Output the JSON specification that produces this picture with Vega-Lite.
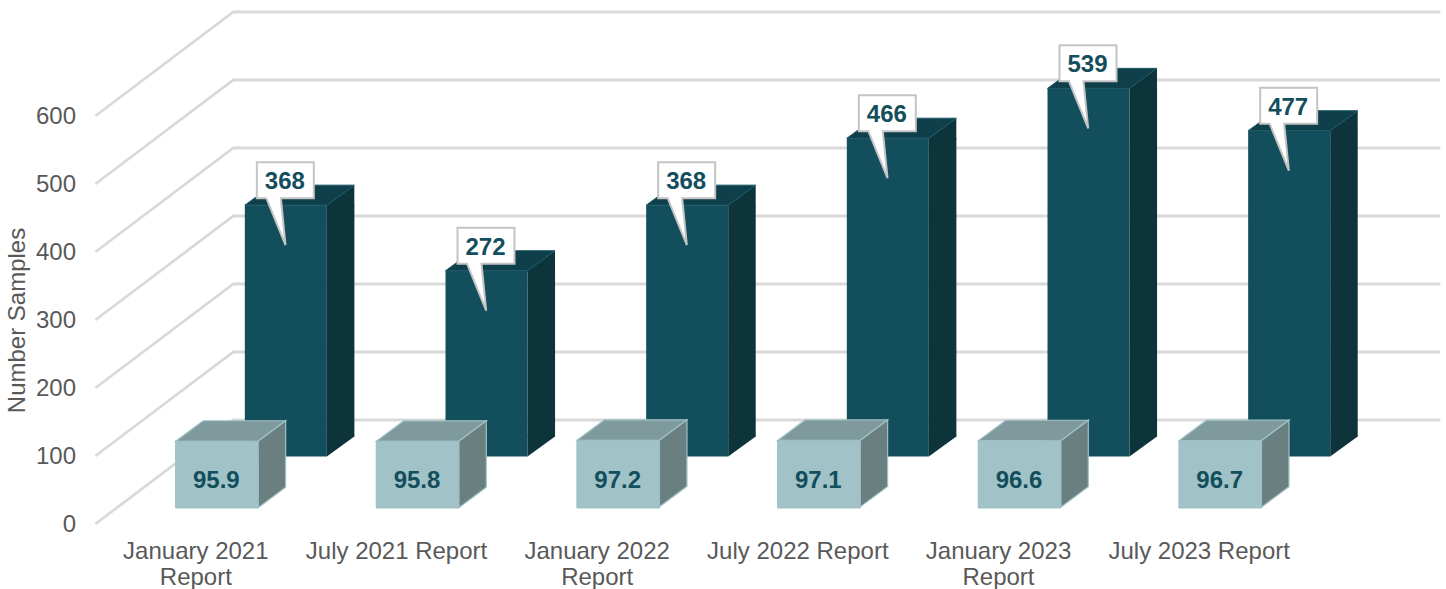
{
"$schema":"https://vega.github.io/schema/vega-lite/v6.json",
"width":1204,"height":408,
"autosize":{"type":"none"},
"padding":{"left":95.5,"top":116,"right":146.5,"bottom":65},
"background":"#ffffff",
"config":{"view":{"stroke":null},"font":"Liberation Sans"},
"datasets":{
"reports":[
{"report":"January 2021 Report","samples":368,"score":95.9},
{"report":"July 2021 Report","samples":272,"score":95.8},
{"report":"January 2022 Report","samples":368,"score":97.2},
{"report":"July 2022 Report","samples":466,"score":97.1},
{"report":"January 2023 Report","samples":539,"score":96.6},
{"report":"July 2023 Report","samples":477,"score":96.7}],
"ticks":[{"tick":0},{"tick":100},{"tick":200},{"tick":300},{"tick":400},{"tick":500},{"tick":600}]
},
"encoding":{
  "x":{"field":"report","type":"nominal","sort":null,"scale":{"type":"band","paddingInner":0,"paddingOuter":0},
    "axis":{"title":null,"domain":false,"ticks":false,"labelAngle":0,"labelPadding":15,"labelFontSize":24,"labelColor":"#595959","labelFont":"Liberation Sans","labelLimit":400,"labelLineHeight":26,
     "labelExpr":"length(datum.label)>17 ? [slice(datum.label,0,12),slice(datum.label,13)] : datum.label"}}
},
"layer":[
{"data":{"name":"ticks"},
 "mark":{"type":"point","filled":false,"size":4,"xOffset":-100.5,"stroke":"#d9d9d9","strokeWidth":2.8,"opacity":1,
   "shape":"M0,0L138,-104L1345,-104"},
 "encoding":{
  "x":{"datum":"January 2021 Report","type":"nominal"},
  "y":{"field":"tick","type":"quantitative","scale":{"domain":[0,600],"range":[408,0],"nice":false},
    "axis":{"title":"Number Samples","values":[0,100,200,300,400,500,600],"domain":false,"ticks":false,"grid":false,"labelPadding":20,"labelFontSize":24,"labelColor":"#595959","labelFont":"Liberation Sans","titleFont":"Liberation Sans","titleFontSize":24,"titleFontWeight":"normal","titleColor":"#595959","titlePadding":6}}
 }},
{"data":{"name":"reports"},"mark":{"type":"bar","width":82,"xOffset":90,"fill":"#134e5c"},
 "encoding":{
  "y":{"field":"samples","type":"quantitative","axis":null,"scale":{"domain":[0,600],"range":[340.5,-69.3],"nice":false}}}},
{"data":{"name":"reports"},"mark":{"type":"bar","width":27.5,"xOffset":144.8,"y2Offset":-20,"fill":"#0e343b"},
 "encoding":{
  "y":{"field":"samples","type":"quantitative","axis":null,"scale":{"domain":[0,600],"range":[340.5,-69.3],"nice":false}},
  "y2":{"datum":0}}},
{"data":{"name":"reports"},"mark":{"type":"point","filled":true,"size":4,"opacity":1,"xOffset":131,"fill":"#0e343b","shape":"M0,0L27.5,-20L27.5,1L0,1Z"},
 "encoding":{
  "y":{"field":"samples","type":"quantitative","axis":null,"scale":{"domain":[0,600],"range":[340.5,-69.3],"nice":false}}}},
{"data":{"name":"reports"},"mark":{"type":"point","filled":true,"size":4,"opacity":1,"xOffset":131,"fill":"#0e343b","shape":"M0,0L27.5,-20L27.5,-21L0,-21Z"},
 "encoding":{
  "y":{"datum":0,"type":"quantitative","axis":null,"scale":{"domain":[0,600],"range":[340.5,-69.3],"nice":false}}}},
{"data":{"name":"reports"},"mark":{"type":"point","filled":true,"size":4,"opacity":1,"xOffset":49,"fill":"#0f3f4b","stroke":"#1a5765","strokeWidth":1,"shape":"M0,0L27.5,-20L109.5,-20L82,0Z"},
 "encoding":{
  "y":{"field":"samples","type":"quantitative","axis":null,"scale":{"domain":[0,600],"range":[340.5,-69.3],"nice":false}}}},
{"data":{"name":"reports"},"mark":{"type":"point","filled":true,"size":4,"opacity":1,"xOffset":-20.2,"fill":"#7f9a9d","stroke":"#a1c3c8","strokeWidth":1.2,"shape":"M0,0L27.5,-20.5L110,-20.5L82.5,0Z"},
 "encoding":{
  "y":{"field":"score","type":"quantitative","axis":null,"scale":{"domain":[0,100],"range":[392,322.4],"nice":false}}}},
{"data":{"name":"reports"},"mark":{"type":"point","filled":true,"size":4,"opacity":1,"xOffset":-20.2,"fill":"#6a7f80","stroke":"#a1c3c8","strokeWidth":1.2,"shape":"M82.5,0L110,-20.5L110,46L82.5,66.5Z"},
 "encoding":{
  "y":{"field":"score","type":"quantitative","axis":null,"scale":{"domain":[0,100],"range":[392,322.4],"nice":false}}}},
{"data":{"name":"reports"},"mark":{"type":"bar","width":82.5,"xOffset":21,"fill":"#a1c3c8","stroke":"#9dbfc4","strokeWidth":1},
 "encoding":{
  "y":{"field":"score","type":"quantitative","axis":null,"scale":{"domain":[0,100],"range":[392,322.4],"nice":false}}}},
{"data":{"name":"reports"},"mark":{"type":"text","font":"Liberation Sans","fontWeight":"bold","fontSize":24,"fill":"#134e5c","xOffset":20.5,"yOffset":-27},
 "encoding":{
  "y":{"datum":0,"type":"quantitative","axis":null,"scale":{"domain":[0,100],"range":[392,322.4],"nice":false}},
  "text":{"field":"score","type":"quantitative","format":".1f"}}},
{"data":{"name":"reports"},"mark":{"type":"point","filled":true,"size":4,"opacity":1,"xOffset":48.5,"fill":"#ffffff","stroke":"#c4c4c4","strokeWidth":2,"shape":"M12.5,-43H69.5V-7H36.5L41.2,40L22,-7H12.5Z"},
 "encoding":{
  "y":{"field":"samples","type":"quantitative","axis":null,"scale":{"domain":[0,600],"range":[340.5,-69.3],"nice":false}}}},
{"data":{"name":"reports"},"mark":{"type":"text","font":"Liberation Sans","fontWeight":"bold","fontSize":24,"fill":"#134e5c","xOffset":89,"yOffset":-23},
 "encoding":{
  "y":{"field":"samples","type":"quantitative","axis":null,"scale":{"domain":[0,600],"range":[340.5,-69.3],"nice":false}},
  "text":{"field":"samples","type":"quantitative"}}}
],
"resolve":{"scale":{"y":"independent"}}
}
